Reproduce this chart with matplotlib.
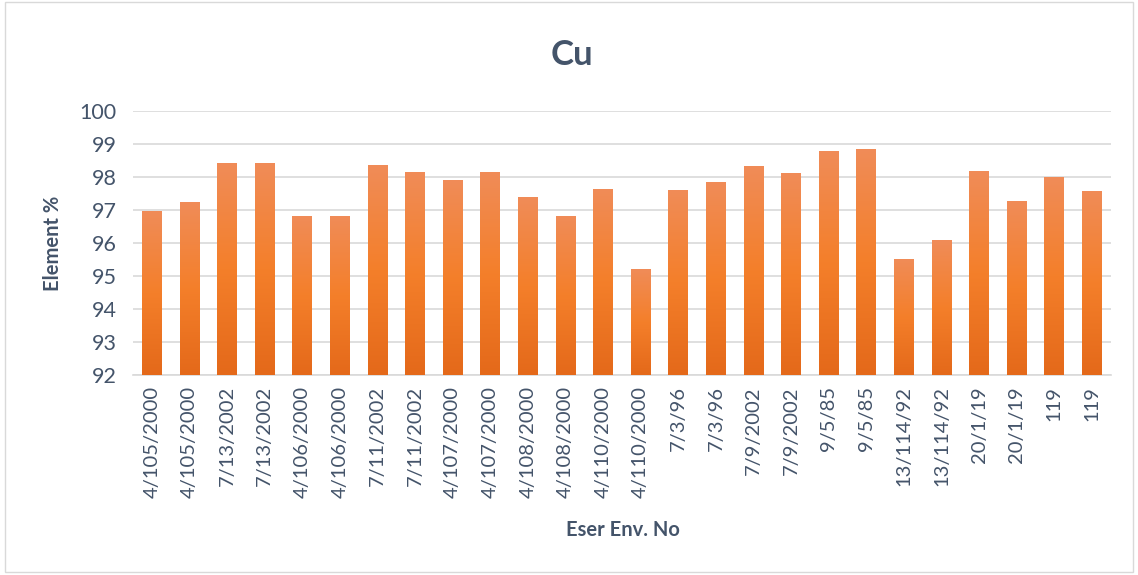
import matplotlib
matplotlib.use('Agg')
import matplotlib.pyplot as plt
import numpy as np
from matplotlib.colors import LinearSegmentedColormap
from matplotlib.patches import Rectangle

plt.rcParams['font.family'] = ['Lato', 'DejaVu Sans']

# sample names and Cu percentages
samples = ['4/105/2000', '4/105/2000', '7/13/2002', '7/13/2002', '4/106/2000', '4/106/2000',
           '7/11/2002', '7/11/2002', '4/107/2000', '4/107/2000', '4/108/2000', '4/108/2000',
           '4/110/2000', '4/110/2000', '7/3/96', '7/3/96', '7/9/2002', '7/9/2002',
           '9/5/85', '9/5/85', '13/114/92', '13/114/92', '20/1/19', '20/1/19', '119', '119']
cu = [96.97, 97.24, 98.42, 98.42, 96.82, 96.82, 98.36, 98.15, 97.91, 98.15, 97.39, 96.82,
      97.64, 95.21, 97.61, 97.85, 98.33, 98.12, 98.79, 98.85, 95.52, 96.09, 98.18, 97.27,
      98.00, 97.58]

text_col = '#44546A'
grid_col = '#D9D9D9'

fig = plt.figure(figsize=(11.38, 5.75), dpi=100)
ax = fig.add_axes([0.117, 0.348, 0.859, 0.459])

x = np.arange(len(samples))
bars = ax.bar(x, [v - 92 for v in cu], bottom=92, width=0.53, color='none', zorder=3)

# vertical gradient fill for each bar
cmap = LinearSegmentedColormap.from_list('og', ['#E4691A', '#F47F2A', '#F08C58'])
grad = np.linspace(0, 1, 256).reshape(-1, 1)
for b in bars:
    x0, y0 = b.get_x(), b.get_y()
    w, h = b.get_width(), b.get_height()
    im = ax.imshow(grad, cmap=cmap, aspect='auto', origin='lower',
                   extent=[x0, x0 + w, y0, y0 + h], zorder=3)
    clip = Rectangle((x0, y0), w, h, transform=ax.transData, facecolor='none', edgecolor='none')
    ax.add_patch(clip)
    im.set_clip_path(clip)

ax.set_xlim(-0.5, len(samples) - 0.5)
ax.set_ylim(92, 100)
ax.set_yticks(range(92, 101))
ax.set_xticks(x)
ax.set_xticklabels(samples, rotation=90, fontsize=14.5, color=text_col)
ax.tick_params(axis='y', labelsize=15.5, labelcolor=text_col, length=0, pad=12)
ax.tick_params(axis='x', length=0, pad=8)
ax.yaxis.grid(True, color=grid_col, lw=1.2, zorder=0)
for s in ['top', 'right', 'left']:
    ax.spines[s].set_visible(False)
ax.spines['bottom'].set_color(grid_col)
ax.spines['bottom'].set_linewidth(1.2)

fig.text(0.503, 0.905, 'Cu', fontsize=25, fontweight='bold', color=text_col,
         ha='center', va='center')
ax.set_ylabel('Element %', fontsize=14.5, fontweight='bold', color=text_col, labelpad=12)
fig.text(0.547, 0.078, 'Eser Env. No', fontsize=14.5, fontweight='bold', color=text_col,
         ha='center', va='center')

fig.patches.append(Rectangle((0.004, 0.006), 0.992, 0.99, transform=fig.transFigure,
                             fill=False, edgecolor=grid_col, lw=1))

fig.savefig('out.png', dpi=100)
